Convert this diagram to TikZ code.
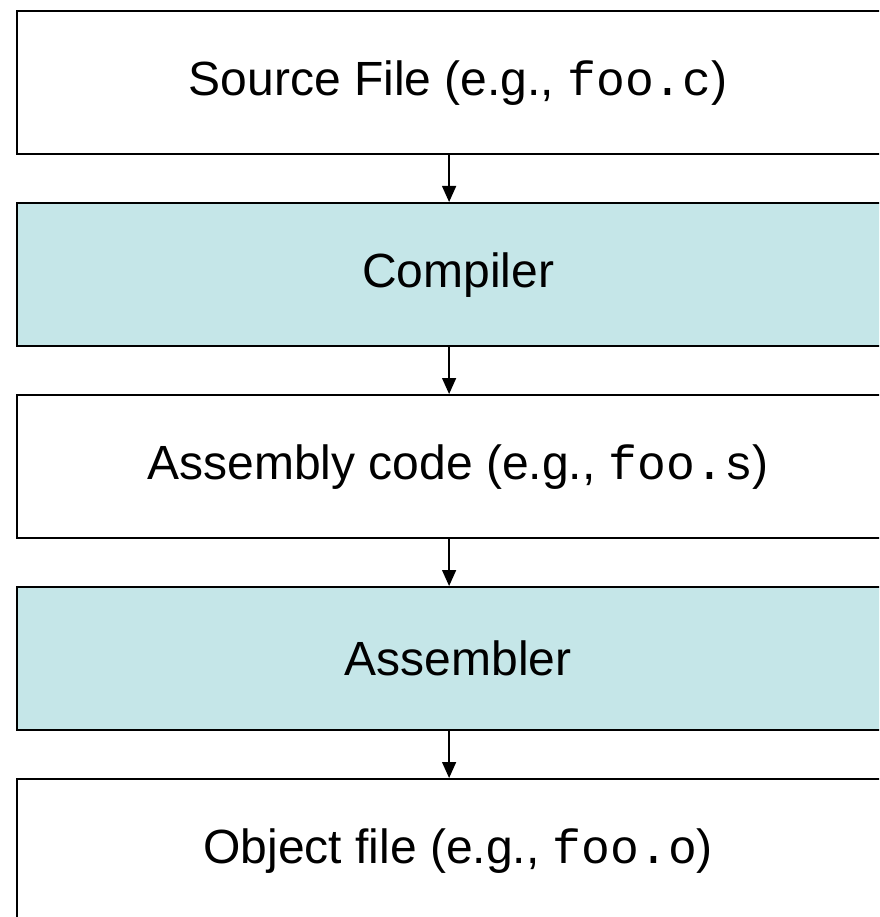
\documentclass[tikz,border=0pt]{standalone}
\usepackage{fontspec}
\setmainfont{Liberation Sans}
\setmonofont{Liberation Mono}
\usetikzlibrary{arrows.meta}
\definecolor{toolfill}{RGB}{197,230,232}
\tikzset{
  stage/.style={draw=black, line width=2.2pt, minimum width=882pt, minimum height=143pt,
    inner sep=0pt, font=\fontsize{48pt}{56pt}\selectfont, anchor=north west},
  filebox/.style={stage, fill=white},
  toolbox/.style={stage, fill=toolfill},
  flow/.style={line width=1.4pt, -{Triangle[width=14pt,length=16pt]}}
}
\begin{document}
\begin{tikzpicture}[x=1pt,y=-1pt]
  \useasboundingbox (0,0) rectangle (879,917);
  \clip (0,0) rectangle (879,917);
  \node[filebox] (src) at (16,10) {Source File (e.g., \texttt{foo.c})};
  \node[toolbox] (cc)  at (16,202) {Compiler};
  \node[filebox] (asm) at (16,394) {Assembly code (e.g., \texttt{foo.s})};
  \node[toolbox] (as)  at (16,586) {Assembler};
  \node[filebox] (obj) at (16,778) {Object file (e.g., \texttt{foo.o})};
  \foreach \a/\b in {src/cc, cc/asm, asm/as, as/obj}
    \draw[flow] ([xshift=-9pt]\a.south) -- ([xshift=-9pt]\b.north);
\end{tikzpicture}
\end{document}
